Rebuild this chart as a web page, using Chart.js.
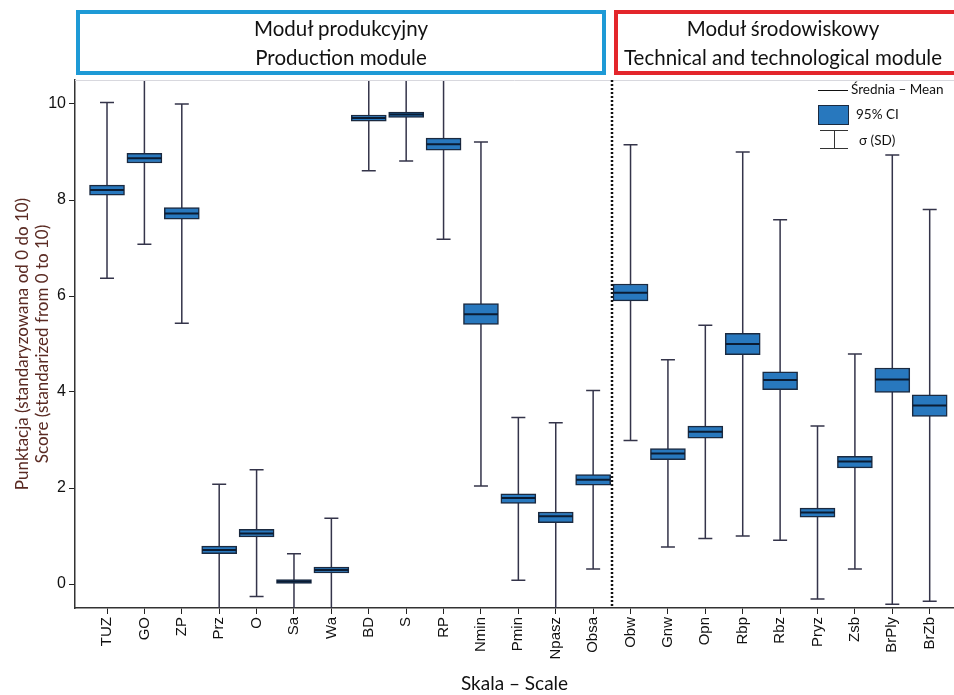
<!DOCTYPE html>
<html>
<head>
<meta charset="utf-8">
<script src="https://cdn.jsdelivr.net/npm/chart.js@4.4.1/dist/chart.umd.min.js"></script>
<style>
    body { margin: 0; background: #fff; overflow: hidden; }
    #wrap { position: relative; width: 954px; height: 695px; overflow: hidden; }
    #boxChart { position: absolute; left: 0; top: 0; }
    .module { position: absolute; top: 10px; height: 57px; border: 4px solid; box-sizing: content-box;
              font-family: Lato, sans-serif; font-size: 20.5px; color: #111; text-align: center; line-height: 29px; }
    .legend { position: absolute; font-family: Lato, sans-serif; font-size: 13.5px; color: #111; }
</style>
</head>
<body>
<div id="wrap">
    <canvas id="boxChart" width="954" height="695"></canvas>
    <div class="module" style="left:76px; width:522px; border-color:#1e9ad6;">Moduł produkcyjny<br>Production module</div>
    <div class="module" style="left:614px; width:350px; border-color:#e3262b; text-align:left;"><span style="display:inline-block; width:330px; text-align:center;">Moduł środowiskowy<br>Technical and technological module</span></div>
    <div class="legend" style="left:818px; top:90px; width:30px; border-top:1px solid #111;"></div>
    <div class="legend" style="left:851px; top:81px;">Średnia – Mean</div>
    <div class="legend" style="left:818px; top:105px; width:29px; height:18px; background:#2878be; border:1px solid #1b2a40;"></div>
    <div class="legend" style="left:856px; top:106px;">95% CI</div>
    <div class="legend" style="left:820px; top:130px; width:28px; border-top:1px solid #333;"></div>
    <div class="legend" style="left:834px; top:130px; height:18px; border-left:1px solid #333;"></div>
    <div class="legend" style="left:820px; top:148px; width:28px; border-top:1px solid #333;"></div>
    <div class="legend" style="left:859px; top:132px;">σ (SD)</div>
</div>
<script>
const categories = ['TUZ', 'GO', 'ZP', 'Prz', 'O', 'Sa', 'Wa', 'BD', 'S', 'RP', 'Nmin', 'Pmin', 'Npasz', 'Obsa',
    'Obw', 'Gnw', 'Opn', 'Rbp', 'Rbz', 'Pryz', 'Zsb', 'BrPly', 'BrZb'];
const meanValues = [8.21, 8.87, 7.72, 0.71, 1.05, 0.05, 0.29, 9.71, 9.78, 9.16, 5.62, 1.79, 1.41, 2.17,
    6.07, 2.72, 3.17, 5.00, 4.25, 1.49, 2.55, 4.26, 3.72];
const ciLow = [8.10, 8.77, 7.60, 0.63, 0.98, 0.01, 0.23, 9.64, 9.72, 9.04, 5.41, 1.68, 1.28, 2.06,
    5.90, 2.59, 3.04, 4.78, 4.05, 1.39, 2.42, 3.99, 3.49];
const ciHigh = [8.31, 8.97, 7.84, 0.79, 1.14, 0.09, 0.35, 9.77, 9.83, 9.29, 5.84, 1.88, 1.50, 2.28,
    6.25, 2.82, 3.29, 5.22, 4.42, 1.58, 2.66, 4.50, 3.94];
const sdLow = [6.37, 7.08, 5.43, -0.66, -0.26, -0.53, -0.79, 8.61, 8.81, 7.18, 2.04, 0.08, -0.54, 0.31,
    2.99, 0.77, 0.95, 1.00, 0.91, -0.31, 0.31, -0.42, -0.36];
const sdHigh = [10.03, 10.66, 10.00, 2.08, 2.38, 0.63, 1.37, 10.81, 10.75, 11.14, 9.21, 3.47, 3.36, 4.03,
    9.15, 4.67, 5.39, 9.00, 7.59, 3.29, 4.79, 8.94, 7.80];
const yTicks = [0, 2, 4, 6, 8, 10];
const moduleSplit = 13.5; // between Obsa and Obw

// whiskers behind the boxes, mean lines + dotted divider on top
const boxExtras = {
    id: 'boxExtras',
    beforeDatasetsDraw(chart) {
        const { ctx, chartArea, scales: { x, y } } = chart;
        ctx.save();
        ctx.beginPath();
        ctx.rect(chartArea.left, chartArea.top, chartArea.right - chartArea.left, chartArea.bottom - chartArea.top);
        ctx.clip();
        ctx.strokeStyle = '#34344a';
        ctx.lineWidth = 1.5;
        categories.forEach((c, i) => {
            const px = x.getPixelForValue(i);
            const top = y.getPixelForValue(sdHigh[i]);
            const bot = y.getPixelForValue(sdLow[i]);
            ctx.beginPath();
            ctx.moveTo(px, top); ctx.lineTo(px, bot);
            ctx.moveTo(px - 7, top); ctx.lineTo(px + 7, top);
            ctx.moveTo(px - 7, bot); ctx.lineTo(px + 7, bot);
            ctx.stroke();
        });
        ctx.restore();
    },
    afterDatasetsDraw(chart) {
        const { ctx, chartArea, scales: { x, y } } = chart;
        ctx.save();
        ctx.strokeStyle = '#0b1c33';
        ctx.lineWidth = 2;
        categories.forEach((c, i) => {
            const px = x.getPixelForValue(i);
            const py = y.getPixelForValue(meanValues[i]);
            ctx.beginPath();
            ctx.moveTo(px - 17, py); ctx.lineTo(px + 17, py);
            ctx.stroke();
        });
        // top frame line
        ctx.strokeStyle = '#d8d8de';
        ctx.lineWidth = 1;
        ctx.beginPath();
        ctx.moveTo(chartArea.left, chartArea.top + 0.5);
        ctx.lineTo(chartArea.right, chartArea.top + 0.5);
        ctx.stroke();
        // dotted divider between modules
        const dx = Math.round(x.getPixelForValue(moduleSplit));
        ctx.strokeStyle = '#111';
        ctx.lineWidth = 2.5;
        ctx.setLineDash([2, 2]);
        ctx.beginPath();
        ctx.moveTo(dx, chartArea.top);
        ctx.lineTo(dx, chartArea.bottom);
        ctx.stroke();
        ctx.restore();
    }
};

document.addEventListener('DOMContentLoaded', function () {
    const ctx = document.getElementById('boxChart').getContext('2d');
    new Chart(ctx, {
        type: 'bar',
        data: {
            datasets: [{
                label: '95% CI',
                data: categories.map((c, i) => ({ x: i, y: [ciLow[i], ciHigh[i]] })),
                backgroundColor: '#2878be',
                borderColor: '#1b2a40',
                borderWidth: 1.5,
                borderSkipped: false,
                barThickness: 35
            }]
        },
        plugins: [boxExtras],
        options: {
            responsive: false,
            animation: false,
            layout: { padding: { top: 80, right: 0, left: 0, bottom: 0 } },
            plugins: { legend: { display: false }, tooltip: { enabled: false } },
            scales: {
                x: {
                    type: 'linear',
                    offset: false,
                    min: -0.856,
                    max: 22.65,
                    afterBuildTicks: s => { s.ticks = categories.map((c, i) => ({ value: i })); },
                    afterFit: s => { s.height = 87; },
                    grid: { offset: false, drawOnChartArea: false, tickLength: 6, color: '#222' },
                    border: { color: '#333', width: 1.5 },
                    ticks: {
                        autoSkip: false,
                        callback: v => categories[v],
                        minRotation: 90, maxRotation: 90,
                        color: '#111',
                        padding: 3,
                        font: { family: 'Liberation Sans, Arial', size: 15 }
                    },
                    title: {
                        display: true,
                        text: 'Skala – Scale',
                        color: '#111',
                        padding: { top: 0, bottom: 0 },
                        font: { family: 'Lato', size: 19 }
                    }
                },
                y: {
                    min: -0.5,
                    max: 10.5,
                    afterBuildTicks: s => { s.ticks = yTicks.map(v => ({ value: v })); },
                    afterFit: s => { s.width = 75; },
                    grid: { drawOnChartArea: false, tickLength: 6, color: '#222' },
                    border: { color: '#333', width: 1.5 },
                    ticks: {
                        color: '#111',
                        padding: 3,
                        font: { family: 'Liberation Sans, Arial', size: 16 }
                    },
                    title: {
                        display: true,
                        text: ['Punktacja (standaryzowana od 0 do 10)', 'Score (standarized from 0 to 10)'],
                        color: '#5a2a22',
                        padding: { top: 12, bottom: 0 },
                        font: { family: 'Lato', size: 17, lineHeight: 1.2 }
                    }
                }
            }
        }
    });
});
</script>
</body>
</html>
